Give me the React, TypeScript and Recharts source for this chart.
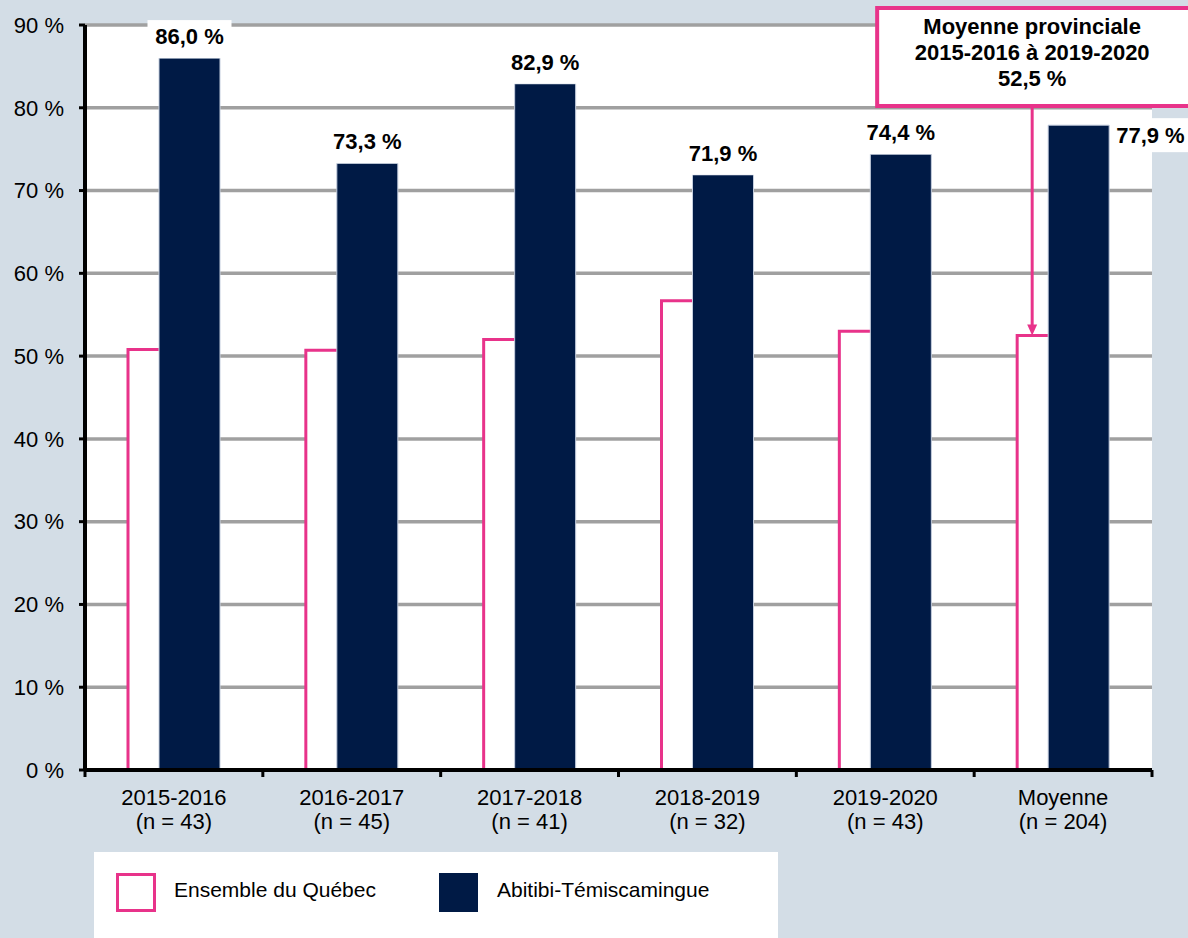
import { BarChart, Bar, XAxis, YAxis, CartesianGrid, LabelList } from 'recharts'

const periods = ['2015-2016', '2016-2017', '2017-2018', '2018-2019', '2019-2020', 'Moyenne']
const sampleSizes = [43, 45, 41, 32, 43, 204]
const quebecValues = [50.8, 50.7, 52.0, 56.7, 53.0, 52.5]
const abitibiValues = [86.0, 73.3, 82.9, 71.9, 74.4, 77.9]
const yTicks = [0, 10, 20, 30, 40, 50, 60, 70, 80, 90]
const annotationLines = ['Moyenne provinciale', '2015-2016 à 2019-2020', '52,5 %']
const legendLabels = ['Ensemble du Québec', 'Abitibi-Témiscamingue']

const W = 1188
const H = 938
const Y_AXIS_W = 85
const RIGHT = 36
const BAND = (W - Y_AXIS_W - RIGHT) / periods.length

const PINK = '#e8338a'
const NAVY = '#001a45'
const BG = '#d3dde6'
const FONT = '"Liberation Sans", Arial, sans-serif'

const data = periods.map((p, i) => ({
  period: p,
  n: sampleSizes[i],
  quebec: quebecValues[i],
  abitibi: abitibiValues[i],
}))

const fmt = (v: number) => v.toFixed(1).replace('.', ',') + ' %'

function PeriodTick(props: any) {
  const { x, y, payload, index } = props
  const i = index ?? periods.indexOf(payload.value)
  const axisY = y - 14
  return (
    <g>
      <line x1={x - BAND / 2} x2={x - BAND / 2} y1={axisY} y2={axisY + 7} stroke="#000" strokeWidth={3} />
      {i === periods.length - 1 && (
        <line x1={x + BAND / 2} x2={x + BAND / 2} y1={axisY} y2={axisY + 7} stroke="#000" strokeWidth={3} />
      )}
      <text x={x} y={y} textAnchor="middle" fontSize={22} fill="#000" fontFamily={FONT}>
        <tspan x={x} dy={21}>{payload.value}</tspan>
        <tspan x={x} dy={24}>(n = {sampleSizes[i]})</tspan>
      </text>
    </g>
  )
}

function ValueLabel(props: any) {
  const { x, y, width, value } = props
  const i = props.index ?? abitibiValues.indexOf(value)
  const last = i === abitibiValues.length - 1
  if (last) {
    const lx = x + width + 5
    return (
      <g>
        <rect x={lx} y={y - 7} width={90} height={34} fill="#fff" />
        <text x={lx + 2} y={y + 18} fontSize={22} fontWeight="bold" fontFamily={FONT} fill="#000">
          {fmt(value)}
        </text>
      </g>
    )
  }
  const cx = x + width / 2
  return (
    <g>
      <rect x={cx - 42} y={y - 38} width={84} height={38} fill="#fff" />
      <text x={cx} y={y - 14} textAnchor="middle" fontSize={22} fontWeight="bold" fontFamily={FONT} fill="#000">
        {fmt(value)}
      </text>
    </g>
  )
}

function Annotation(props: any) {
  const { x, y, value } = props
  const i = props.index ?? quebecValues.lastIndexOf(value)
  if (i !== quebecValues.length - 1) return null
  const ax = x + 15
  const boxTop = 8
  const boxBottom = 106
  return (
    <g>
      <line x1={ax} x2={ax} y1={boxBottom} y2={y - 9} stroke={PINK} strokeWidth={3} />
      <polygon points={`${ax - 5},${y - 11} ${ax + 5},${y - 11} ${ax},${y}`} fill={PINK} />
      <rect x={ax - 155} y={boxTop} width={340} height={boxBottom - boxTop} fill="#fff" stroke={PINK} strokeWidth={4} />
      {annotationLines.map((t, k) => (
        <text key={k} x={ax} y={34 + k * 26} textAnchor="middle" fontSize={22} fontWeight="bold" fontFamily={FONT} fill="#000">
          {t}
        </text>
      ))}
    </g>
  )
}

export default function App() {
  return (
    <div style={{ position: 'absolute', left: 0, top: 0, width: W, height: H, background: BG, overflow: 'hidden', fontFamily: FONT }}>
      <BarChart
        width={W}
        height={H}
        data={data}
        margin={{ top: 25, right: RIGHT, left: 0, bottom: 108 }}
        barGap={-30}
      >
        <CartesianGrid horizontal vertical={false} stroke="#a0a0a0" strokeWidth={3.5} fill="#fff" fillOpacity={1} />
        <Bar dataKey="quebec" fill="#fff" stroke={PINK} strokeWidth={3} barSize={61} isAnimationActive={false}>
          <LabelList dataKey="quebec" content={<Annotation />} />
        </Bar>
        <Bar dataKey="abitibi" fill={NAVY} stroke="#c4cede" strokeWidth={1} barSize={61} isAnimationActive={false}>
          <LabelList dataKey="abitibi" content={<ValueLabel />} />
        </Bar>
        <XAxis
          dataKey="period"
          height={60}
          tickSize={6}
          tickMargin={8}
          tickLine={false}
          axisLine={{ stroke: '#000', strokeWidth: 4 }}
          tick={(p: any) => <PeriodTick {...p} />}
          interval={0}
        />
        <YAxis
          width={Y_AXIS_W}
          domain={[0, 90]}
          ticks={yTicks}
          interval={0}
          tickSize={6}
          tickMargin={15}
          tickFormatter={(v: number) => `${v} %`}
          tick={{ fill: '#000', fontSize: 22, fontFamily: FONT }}
          tickLine={{ stroke: '#000', strokeWidth: 3 }}
          axisLine={{ stroke: '#000', strokeWidth: 4 }}
        />
      </BarChart>
      <div style={{ position: 'absolute', left: 94, top: 852, width: 684, height: 86, background: '#fff' }}>
        <div style={{ position: 'absolute', left: 22, top: 21, width: 34, height: 33, border: `3px solid ${PINK}`, background: '#fff' }} />
        <div style={{ position: 'absolute', left: 80, top: 26, fontSize: 21, lineHeight: '24px', color: '#000' }}>{legendLabels[0]}</div>
        <div style={{ position: 'absolute', left: 345, top: 21, width: 39, height: 39, background: NAVY }} />
        <div style={{ position: 'absolute', left: 403, top: 26, fontSize: 21, lineHeight: '24px', color: '#000' }}>{legendLabels[1]}</div>
      </div>
    </div>
  )
}
